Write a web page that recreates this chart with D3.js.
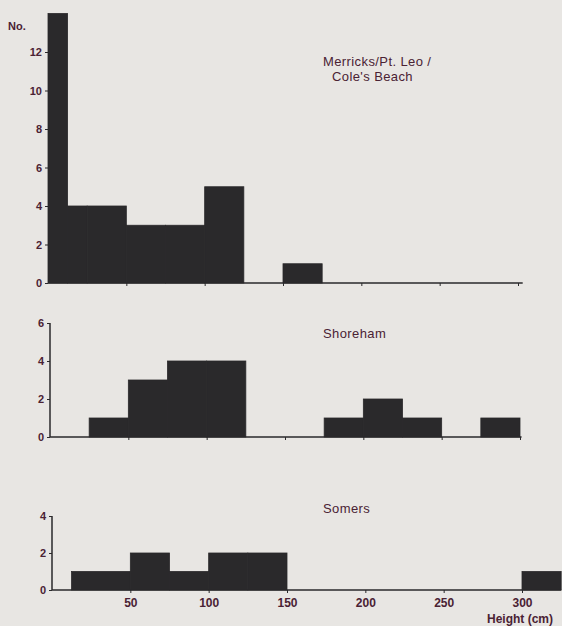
<!DOCTYPE html>
<html>
<head>
<meta charset="utf-8">
<script src="https://cdn.jsdelivr.net/npm/d3@7"></script>
<style>
  body { margin: 0; background: #e8e6e3; }
  svg { display: block; }
  .tick text { font-family: "Liberation Sans", Arial, sans-serif; font-weight: bold; fill: #4a2234; }
  .lbl { font-family: "Liberation Sans", Arial, sans-serif; fill: #4a2234; }
</style>
</head>
<body>
<div id="chart"></div>
<script>
// bins: [from cm, to cm, count]
var merricksBins = [[0, 12.5, 14], [12.5, 25, 4], [25, 50, 4], [50, 75, 3], [75, 100, 3], [100, 125, 5], [150, 175, 1]];
var shorehamBins = [[25, 50, 1], [50, 75, 3], [75, 100, 4], [100, 125, 4], [175, 200, 1], [200, 225, 2], [225, 250, 1], [275, 300, 1]];
var somersBins = [[12.5, 50, 1], [50, 75, 2], [75, 100, 1], [100, 125, 2], [125, 150, 2], [300, 325, 1]];

var merricksTicks = [0, 2, 4, 6, 8, 10, 12];
var shorehamTicks = [0, 2, 4, 6];
var somersTicks = [0, 2, 4];
var heightTicks = [50, 100, 150, 200, 250, 300];

var panels = [
  {name: ["Merricks/Pt. Leo /", "Cole's Beach"], bins: merricksBins, yTicks: merricksTicks,
   left: 48, base: 283, top: 52, titleY: 66, showAxisLine: false, axisEnd: 303},
  {name: ["Shoreham"], bins: shorehamBins, yTicks: shorehamTicks,
   left: 50, base: 437, top: 323, titleY: 338, showAxisLine: true, axisEnd: 301},
  {name: ["Somers"], bins: somersBins, yTicks: somersTicks,
   left: 52, base: 590, top: 516, titleY: 513, showAxisLine: true, axisEnd: 325, labels: true}
];

var W = 562, H = 626;
var svg = d3.select("#chart").append("svg")
  .attr("width", W)
  .attr("height", H);

panels.forEach(function(p) {
  var x = d3.scaleLinear().domain([0, 300]).range([0, 470]);
  var yMax = d3.max(p.yTicks);
  var y = d3.scaleLinear().domain([0, yMax]).range([p.base, p.top]);

  var g = svg.append("g").attr("transform", "translate(" + p.left + ",0)");

  // bars
  g.selectAll("rect.bar")
    .data(p.bins)
    .enter()
    .append("rect")
    .attr("class", "bar")
    .attr("x", function(d) { return x(d[0]); })
    .attr("width", function(d) { return x(d[1]) - x(d[0]); })
    .attr("y", function(d) { return y(d[2]); })
    .attr("height", function(d) { return y(0) - y(d[2]); })
    .style("fill", "#2a292b")
    .style("stroke", "#2a292b")
    .style("stroke-width", 0.8);

  // y axis
  var yAxis = d3.axisLeft(y).tickValues(p.yTicks).tickSize(3).tickPadding(3).tickFormat(d3.format("d"));
  var gY = g.append("g").call(yAxis);
  gY.selectAll("text").style("font-size", "11px");
  gY.selectAll(".tick line").attr("stroke", "#2a292b");
  gY.select(".domain").attr("d", "M0," + y(yMax) + "V" + y(0))
    .attr("stroke", "#2a292b").attr("stroke-width", 1.5)
    .style("display", p.showAxisLine ? null : "none");

  // x axis
  var xAxis = d3.axisBottom(x).tickValues(heightTicks).tickSize(3).tickPadding(5)
    .tickFormat(p.labels ? d3.format("d") : "");
  var gX = g.append("g").attr("transform", "translate(0," + p.base + ")").call(xAxis);
  gX.select(".domain").attr("d", "M0,0H" + x(p.axisEnd))
    .attr("stroke", "#2a292b").attr("stroke-width", 1.5);
  gX.selectAll(".tick line").attr("stroke", "#2a292b");
  gX.selectAll("text").style("font-size", "12px");

  // site name
  var t = svg.append("text")
    .attr("class", "lbl")
    .attr("x", 323)
    .attr("y", p.titleY)
    .style("font-size", "13px")
    .style("letter-spacing", "0.4px");
  p.name.forEach(function(s, i) {
    t.append("tspan").attr("x", i === 0 ? 323 : 332).attr("dy", i === 0 ? 0 : 15).text(s);
  });
});

svg.append("text")
  .attr("class", "lbl")
  .attr("x", 8)
  .attr("y", 30)
  .style("font-size", "11px")
  .style("font-weight", "bold")
  .text("No.");

svg.append("text")
  .attr("class", "lbl")
  .attr("x", 553)
  .attr("y", 623)
  .attr("text-anchor", "end")
  .style("font-size", "12px")
  .style("font-weight", "bold")
  .text("Height (cm)");
</script>
</body>
</html>
